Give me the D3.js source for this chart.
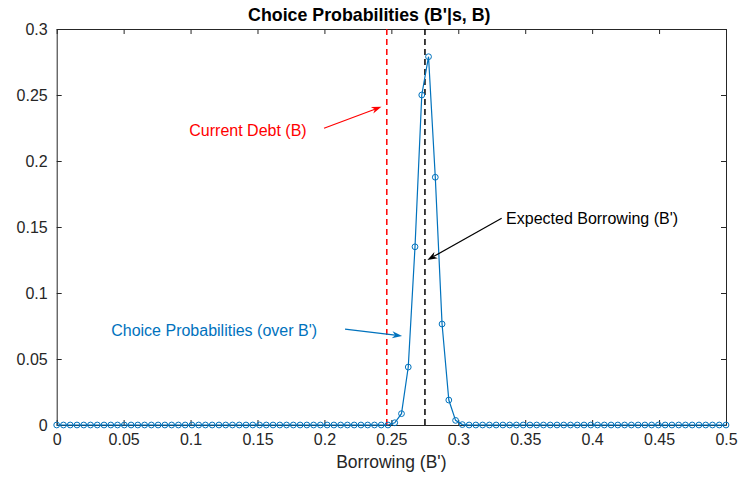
<!DOCTYPE html>
<html><head><meta charset="utf-8">
<script src="https://cdn.jsdelivr.net/npm/d3@7"></script>
<style>
body{margin:0;background:#fff;}
text{font-family:"Liberation Sans",Arial,Helvetica,sans-serif;}
</style></head>
<body><svg id="c" width="738" height="479"></svg>
<script>
// ---- data ----
const nPoints = 100;            // linspace(0, 0.5, 100)
const xMin = 0, xMax = 0.5;
const probs = [
 0,0,0,0,0,0,0,0,0,0,
 0,0,0,0,0,0,0,0,0,0,
 0,0,0,0,0,0,0,0,0,0,
 0,0,0,0,0,0,0,0,0,0,
 0,0,0,0,0,0,0,0,0,0,
 0.0017,0.0086,0.0439,0.135,0.250,0.279,0.1877,0.0765,0.0189,0.0035,
 0.0003,0,0,0,0,0,0,0,0,0,
 0,0,0,0,0,0,0,0,0,0,
 0,0,0,0,0,0,0,0,0,0,
 0,0,0,0,0,0,0,0,0,0
];
const currentDebt = 0.2466;
const expectedBorrowing = 0.2751;
const xTicks = [0,0.05,0.1,0.15,0.2,0.25,0.3,0.35,0.4,0.45,0.5];
const xTickLabels = ["0","0.05","0.1","0.15","0.2","0.25","0.3","0.35","0.4","0.45","0.5"];
const yTicks = [0,0.05,0.1,0.15,0.2,0.25,0.3];
const yTickLabels = ["0","0.05","0.1","0.15","0.2","0.25","0.3"];
const titleText = "Choice Probabilities (B'|s, B)";
const titleX = 0.2335;   // data x of title centre
const xLabelText = "Borrowing (B')";
// annotations: [text, textX, textY, anchor, arrowFromX, arrowFromY, arrowToX, arrowToY, colour]
const annotations = [
  ["Current Debt (B)", 0.1429, 0.2235, "middle", 0.1997, 0.2248, 0.2426, 0.2411, "#ff0000"],
  ["Expected Borrowing (B')", 0.3357, 0.1568, "start", 0.3324, 0.1566, 0.2769, 0.1250, "#000000"],
  ["Choice Probabilities (over B')", 0.1176, 0.0720, "middle", 0.2154, 0.0727, 0.2580, 0.0674, "#0072bd"]
];

// ---- layout ----
const L = 56.7, R = 726, T = 29, B = 425;
const svg = d3.select("#c");
const x = d3.scaleLinear().domain([0,0.5]).range([L,R]);
const y = d3.scaleLinear().domain([0,0.3]).range([B,T]);
const xs = d3.range(nPoints).map(i => xMin + (xMax - xMin) * i / (nPoints - 1));
const pts = xs.map((v,i) => [v, probs[i]]);
const blue = "#0072bd";
const axisCol = "#262626";
const fontSize = 16;

// axes
const gx = svg.append("g").attr("transform",`translate(0,${B})`)
  .call(d3.axisBottom(x).tickValues(xTicks).tickFormat((d,i)=>xTickLabels[i]).tickSizeInner(-5).tickSizeOuter(0).tickPadding(9));
const gxt = svg.append("g").attr("transform",`translate(0,${T})`)
  .call(d3.axisTop(x).tickValues(xTicks).tickFormat("").tickSizeInner(-5).tickSizeOuter(0));
const gy = svg.append("g").attr("transform",`translate(${L},0)`)
  .call(d3.axisLeft(y).tickValues(yTicks).tickFormat((d,i)=>yTickLabels[i]).tickSizeInner(-5).tickSizeOuter(0).tickPadding(9));
const gyr = svg.append("g").attr("transform",`translate(${R},0)`)
  .call(d3.axisRight(y).tickValues(yTicks).tickFormat("").tickSizeInner(-5).tickSizeOuter(0));
[gx,gxt,gy,gyr].forEach(g=>{
  g.select(".domain").attr("stroke",axisCol).attr("stroke-width",1);
  g.selectAll(".tick line").attr("stroke",axisCol);
  g.selectAll("text").attr("fill",axisCol).style("font-size",fontSize+"px").style("font-family","'Liberation Sans',Arial,sans-serif");
});

// vertical dashed lines
svg.append("line").attr("x1",x(currentDebt)).attr("x2",x(currentDebt)).attr("y1",y(0)).attr("y2",y(0.3))
  .attr("stroke","#ff0000").attr("stroke-width",1.5).attr("stroke-dasharray","6,4");
svg.append("line").attr("x1",x(expectedBorrowing)).attr("x2",x(expectedBorrowing)).attr("y1",y(0)).attr("y2",y(0.3))
  .attr("stroke","#000").attr("stroke-width",1.5).attr("stroke-dasharray","6,4");

// line + markers
svg.append("path").datum(pts)
  .attr("d", d3.line().x(d=>x(d[0])).y(d=>y(d[1])))
  .attr("fill","none").attr("stroke",blue).attr("stroke-width",1.2);
svg.append("g").selectAll("circle").data(pts).join("circle")
  .attr("cx",d=>x(d[0])).attr("cy",d=>y(d[1])).attr("r",2.9)
  .attr("fill","none").attr("stroke",blue).attr("stroke-width",1);

// title & label
svg.append("text").attr("x",x(titleX)).attr("y",21).attr("text-anchor","middle")
  .style("font-size","17.8px").style("font-weight","bold").attr("fill","#000").text(titleText);
svg.append("text").attr("x",(L+R)/2).attr("y",467.5).attr("text-anchor","middle")
  .style("font-size","17.5px").attr("fill",axisCol).text(xLabelText);

// annotations
annotations.forEach(a=>{
  const [txt,tx,ty,anc,fx,fy,ex,ey,col] = a;
  svg.append("text").attr("x",x(tx)).attr("y",y(ty)).attr("dy","0.35em").attr("text-anchor",anc)
    .style("font-size","16px").attr("fill",col).text(txt);
  const x1=x(fx), y1=y(fy), x2=x(ex), y2=y(ey);
  const ang = Math.atan2(y2-y1,x2-x1);
  const hl = 10, hw = 3.5, back = 7;
  const bx = x2 - hl*Math.cos(ang), by = y2 - hl*Math.sin(ang);
  const px = -Math.sin(ang), py = Math.cos(ang);
  const nx = x2 - back*Math.cos(ang), ny = y2 - back*Math.sin(ang);
  svg.append("line").attr("x1",x1).attr("y1",y1).attr("x2",nx).attr("y2",ny)
    .attr("stroke",col).attr("stroke-width",1.2);
  svg.append("path")
    .attr("d",`M${x2},${y2}L${bx+hw*px},${by+hw*py}L${nx},${ny}L${bx-hw*px},${by-hw*py}Z`)
    .attr("fill",col).attr("stroke","none");
});
</script>
</body></html>
